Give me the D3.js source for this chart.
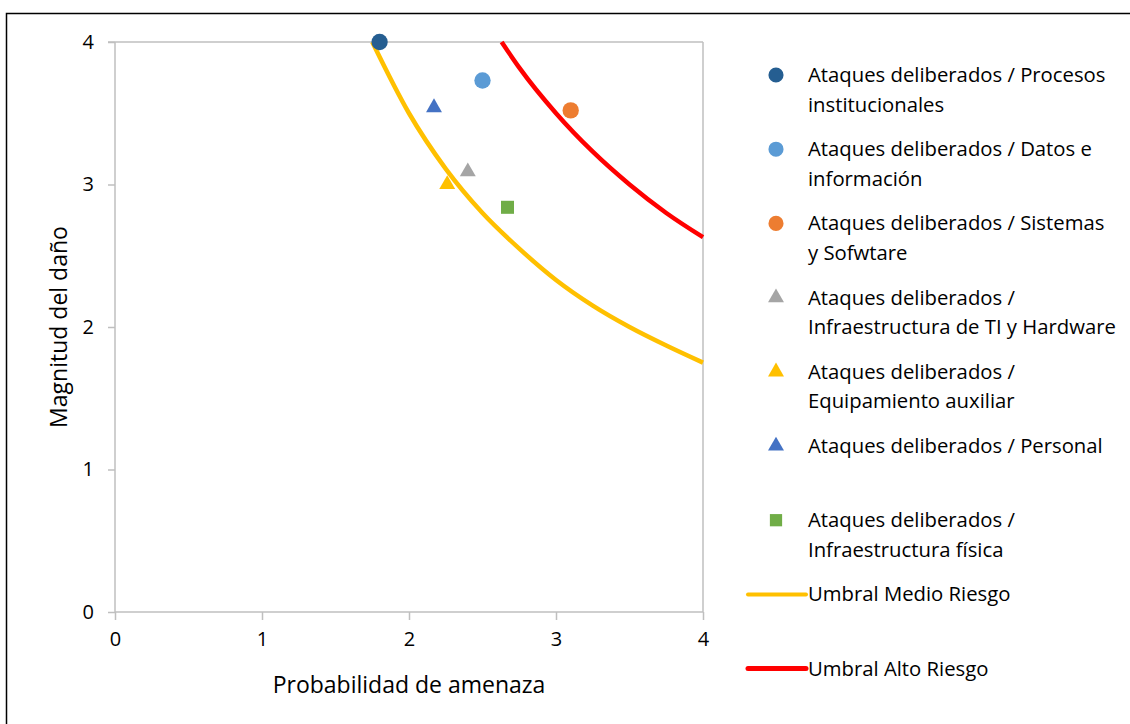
<!DOCTYPE html>
<html>
<head>
<meta charset="utf-8">
<script src="https://cdn.jsdelivr.net/npm/d3@7"></script>
<style>
  body { margin: 0; background: #fff; }
  text { font-family: "Open Sans", sans-serif; fill: #000; }
</style>
</head>
<body>
<div class="chart"></div>
<script>
// series: probability (x), damage (y)
var seriesNames = [
    "Ataques deliberados / Procesos institucionales",
    "Ataques deliberados / Datos e información",
    "Ataques deliberados / Sistemas y Sofwtare",
    "Ataques deliberados / Infraestructura de TI y Hardware",
    "Ataques deliberados / Equipamiento auxiliar",
    "Ataques deliberados / Personal",
    "Ataques deliberados / Infraestructura física"
];
var legendLines = [
    ["Ataques deliberados / Procesos", "institucionales"],
    ["Ataques deliberados / Datos e", "información"],
    ["Ataques deliberados / Sistemas", "y Sofwtare"],
    ["Ataques deliberados /", "Infraestructura de TI y Hardware"],
    ["Ataques deliberados /", "Equipamiento auxiliar"],
    ["Ataques deliberados / Personal"],
    ["Ataques deliberados /", "Infraestructura física"]
];
var probValues = [1.8, 2.5, 3.1, 2.4, 2.26, 2.17, 2.67];
var damageValues = [4.0, 3.73, 3.52, 3.09, 3.0, 3.54, 2.84];
var symbols = ["circle", "circle", "circle", "triangle", "triangle", "triangle", "square"];
var colors = ["#255E91", "#5B9BD5", "#ED7D31", "#A5A5A5", "#FFC000", "#4472C4", "#70AD47"];

// threshold curves, points
var medioX = [1.75, 2.0, 2.25, 2.5, 2.75, 3.0, 3.25, 3.5, 3.75, 4.0];
var medioY = [4.0, 3.5, 3.11, 2.8, 2.55, 2.33, 2.15, 2.0, 1.87, 1.75];
var altoX = [2.63, 2.75, 3.0, 3.25, 3.5, 3.75, 4.0];
var altoY = [4.0, 3.82, 3.5, 3.23, 3.0, 2.8, 2.63];
var lineNames = ["Umbral Medio Riesgo", "Umbral Alto Riesgo"];
var lineColors = ["#FFC000", "#FF0000"];

var xTicks = [0, 1, 2, 3, 4];
var yTicks = [0, 1, 2, 3, 4];

var svgWidth = 1130, svgHeight = 724;
var margin = {top: 42, left: 115};
var width = 588, height = 570;

var svg = d3.select(".chart").append("svg")
    .attr("width", svgWidth)
    .attr("height", svgHeight);

// outer border
svg.append("rect")
    .attr("x", 6.5).attr("y", 13.5)
    .attr("width", 1130).attr("height", 720)
    .attr("fill", "none").attr("stroke", "#000").attr("stroke-width", 1.5);

var g = svg.append("g")
    .attr("transform", "translate(" + margin.left + "," + margin.top + ")");

var x = d3.scaleLinear().domain([0, 4]).range([0, width]);
var y = d3.scaleLinear().domain([0, 4]).range([height, 0]);

// top and right frame lines
g.append("line")
    .attr("x1", -7).attr("x2", width).attr("y1", y(4)).attr("y2", y(4))
    .attr("stroke", "#BFBFBF").attr("stroke-width", 1.5);
g.append("line")
    .attr("x1", width).attr("x2", width).attr("y1", 0).attr("y2", height)
    .attr("stroke", "#BFBFBF").attr("stroke-width", 1.5);

var xAxis = g.append("g")
    .attr("transform", "translate(0," + height + ")")
    .call(d3.axisBottom(x).tickValues(xTicks).tickSize(8).tickPadding(12).tickFormat(d3.format("d")));
var yAxis = g.append("g")
    .call(d3.axisLeft(y).tickValues(yTicks).tickSize(7).tickPadding(14).tickFormat(d3.format("d")));

[xAxis, yAxis].forEach(function(a) {
    a.select(".domain").attr("stroke", "#BFBFBF").attr("stroke-width", 1.5);
    a.selectAll(".tick line").attr("stroke", "#BFBFBF").attr("stroke-width", 1.5);
    a.selectAll(".tick text").style("font-size", "20px").style("font-family", "'Open Sans', sans-serif").attr("fill", "#000");
});
xAxis.select(".domain").attr("d", "M0,0H" + width);
yAxis.select(".domain").attr("d", "M0," + height + "V0");

// axis titles
svg.append("text")
    .attr("x", 409).attr("y", 693)
    .attr("text-anchor", "middle")
    .style("font-size", "23px")
    .text("Probabilidad de amenaza");
svg.append("text")
    .attr("transform", "translate(67,327) rotate(-90)")
    .attr("text-anchor", "middle")
    .style("font-size", "23px")
    .text("Magnitud del daño");

// threshold curves
var line = d3.line()
    .x(d => x(d[0]))
    .y(d => y(d[1]))
    .curve(d3.curveMonotoneX);

var curves = [d3.zip(medioX, medioY), d3.zip(altoX, altoY)];
curves.forEach(function(c, i) {
    g.append("path")
        .attr("d", line(c))
        .attr("fill", "none")
        .attr("stroke", lineColors[i])
        .attr("stroke-width", 4.5);
});

// markers
var symbolTypes = {
    circle: d3.symbolCircle,
    triangle: d3.symbolTriangle,
    square: d3.symbolSquare
};
var symbolSizes = { circle: 210, triangle: 110, square: 170 };

var points = d3.range(seriesNames.length).map(i => ({
    name: seriesNames[i], x: probValues[i], y: damageValues[i],
    symbol: symbols[i], color: colors[i]
}));

g.selectAll(".pt")
    .data(points)
    .enter()
    .append("path")
    .attr("class", "pt")
    .attr("transform", d => "translate(" + x(d.x) + "," + y(d.y) + ")")
    .attr("d", d => d3.symbol().type(symbolTypes[d.symbol]).size(symbolSizes[d.symbol])())
    .attr("fill", d => d.color);

// legend
var legend = svg.append("g");
var rowY = 75, rowStep = 74.2, lineH = 29.5;

points.forEach(function(d, i) {
    var cy = rowY + i * rowStep;
    legend.append("path")
        .attr("transform", "translate(776," + cy + ")")
        .attr("d", d3.symbol().type(symbolTypes[d.symbol]).size(d.symbol == "circle" ? 180 : (d.symbol == "square" ? 150 : 110))())
        .attr("fill", d.color);
    legendLines[i].forEach(function(t, j) {
        legend.append("text")
            .attr("x", 808)
            .attr("y", cy + 7 + j * lineH)
            .style("font-size", "20.3px")
            .text(t);
    });
});

lineNames.forEach(function(n, i) {
    var cy = rowY + (7 + i) * rowStep;
    legend.append("line")
        .attr("x1", 748).attr("x2", 806)
        .attr("y1", cy).attr("y2", cy)
        .attr("stroke", lineColors[i])
        .attr("stroke-width", i == 0 ? 4 : 5)
        .attr("stroke-linecap", "round");
    legend.append("text")
        .attr("x", 808)
        .attr("y", cy + 7)
        .style("font-size", "20.3px")
        .text(n);
});
</script>
</body>
</html>
